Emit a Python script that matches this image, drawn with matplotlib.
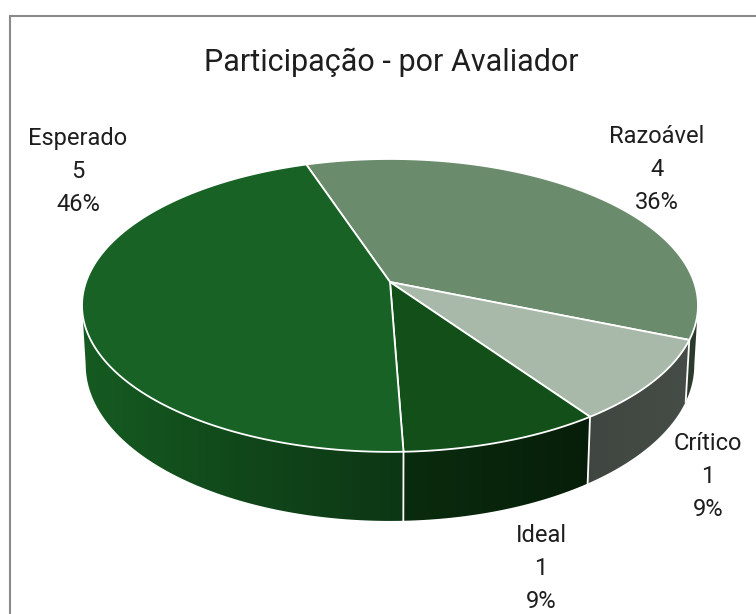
import numpy as np
import matplotlib.pyplot as plt
from matplotlib.colors import to_rgb
plt.rcParams['font.family'] = 'Roboto'

# data (clockwise from the back)
categorias = ['Razoável', 'Crítico', 'Ideal', 'Esperado']
valores = [4, 1, 1, 5]
percentuais = ['36%', '9%', '9%', '46%']
cores = ['#6a8b6c', '#a8b9aa', '#124f19', '#176224']

# label anchors (centre x, baseline of the value line)
rot_x = [657, 708, 541, 78]
rot_y = [176, 483, 575, 178]

# pie geometry in pixel space
cx, cy = 390, 282          # apex of the slices
A, B, k = 304, 142.7, 0.16  # perspective ellipse
H = 58; conv = 0.012        # side depth, vertical convergence
inicio = -18.5              # first slice starts here, clockwise from the back

def ponto(ang, baixo=False):
    a = np.radians(ang)
    u, v = np.sin(a), np.cos(a)
    d = 1 + k*v
    x = A*u/d
    y = -B*v/d
    if baixo:
        x = x*(1-conv)
        y = y + H/d
    return cx + x, cy + y

def sombra(x):
    return np.interp(x, [80, 250, 400, 590, 697], [0.93, 0.72, 0.56, 0.38, 0.42])

fig = plt.figure(figsize=(7.56, 6.14), dpi=100)
ax = fig.add_axes([0, 0, 1, 1])
ax.set_xlim(0, 756); ax.set_ylim(614, 0); ax.axis('off')

# chart frame (cut at right and bottom)
ax.plot([10, 10, 756], [614, 16, 16], color='#8a8a8a', lw=1.5, solid_joinstyle='miter', zorder=0)

ang = np.cumsum([0] + [v/sum(valores)*360 for v in valores]) + inicio
vis_lo = np.degrees(np.arccos(-k)); vis_hi = 360 - vis_lo

# sides with horizontal gradient
for i in range(len(valores)):
    a1, a2 = ang[i], ang[i+1]
    base = np.array(to_rgb(cores[i]))
    for off in (0, 360, -360):
        lo = max(a1 + off, vis_lo); hi = min(a2 + off, vis_hi)
        if hi <= lo:
            continue
        ts = np.linspace(lo, hi, 200)
        topo = [ponto(t) for t in ts]
        fundo = [ponto(t, True) for t in ts[::-1]]
        pts = np.array(topo + fundo)
        lado = plt.Polygon(pts, closed=True, facecolor='none', edgecolor='none')
        ax.add_patch(lado)
        x0, x1 = pts[:, 0].min() - 2, pts[:, 0].max() + 2
        y0, y1 = pts[:, 1].min() - 2, pts[:, 1].max() + 2
        xs = np.linspace(x0, x1, 300)
        img = np.clip(base[None, None, :] * sombra(xs)[None, :, None], 0, 1)
        im = ax.imshow(img, extent=(x0, x1, y1, y0), aspect='auto', interpolation='bilinear', zorder=1)
        im.set_clip_path(lado)

ax.set_xlim(0, 756); ax.set_ylim(614, 0)

# white seams on the side
for a in ang:
    for off in (0, 360, -360):
        t = a + off
        if vis_lo < t < vis_hi:
            p = ponto(t); q = ponto(t, True)
            ax.plot([p[0], q[0]], [p[1], q[1]], color='white', lw=1.3, zorder=2)

# top faces
for i in range(len(valores)):
    ts = np.linspace(ang[i], ang[i+1], 200)
    pts = [(cx, cy)] + [ponto(t) for t in ts]
    ax.add_patch(plt.Polygon(pts, closed=True, facecolor=cores[i], edgecolor='white',
                             lw=1.3, joinstyle='round', zorder=3))

# labels
for i in range(len(valores)):
    ax.text(rot_x[i], rot_y[i] - 33, categorias[i], ha='center', va='baseline', fontsize=17, color='#1e1e1e')
    ax.text(rot_x[i], rot_y[i], str(valores[i]), ha='center', va='baseline', fontsize=17, color='#1e1e1e')
    ax.text(rot_x[i], rot_y[i] + 33, percentuais[i], ha='center', va='baseline', fontsize=17, color='#1e1e1e')

ax.text(391, 71, 'Participação - por Avaliador', ha='center', va='baseline', fontsize=22, color='#1e1e1e')

plt.savefig('out.png', dpi=100)
